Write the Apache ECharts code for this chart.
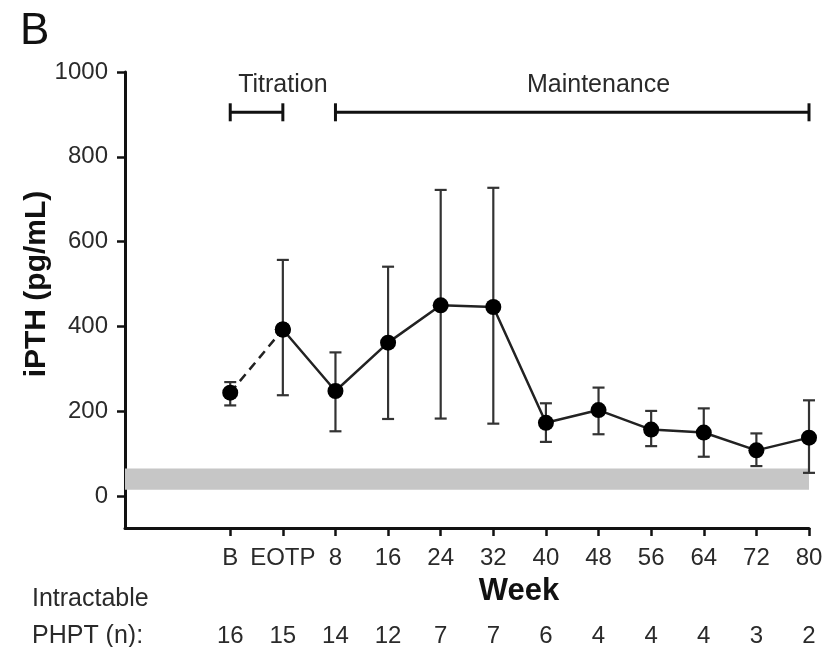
<!DOCTYPE html>
<html>
<head>
<meta charset="utf-8">
<script src="https://cdn.jsdelivr.net/npm/echarts@6/dist/echarts.min.js"></script>
<style>
html,body{margin:0;padding:0;background:#fff;}
#chart{width:826px;height:647px;}
</style>
</head>
<body>
<div id="chart"></div>
<script>
// ---- data ----
var categories = ['', '', 'B', 'EOTP', '8', '16', '24', '32', '40', '48', '56', '64', '72', '80'];
var nCounts   = ['', '', '16', '15', '14', '12', '7', '7', '6', '4', '4', '4', '3', '2'];
var meanPTH   = [null, null, 244, 393, 248, 362, 450, 446, 173, 203, 157, 150, 108, 138];
var lowPTH    = [null, null, 214, 238, 153, 182, 183, 171, 128, 146, 118, 93, 71, 55];
var highPTH   = [null, null, 269, 557, 339, 541, 722, 727, 219, 256, 201, 207, 148, 226];
var yTicks    = [0, 200, 400, 600, 800, 1000];
var normalRange = [15, 65];
var phases = [
  {name: 'Titration', from: 'B', to: 'EOTP'},
  {name: 'Maintenance', from: '8', to: '80'}
];
var bracketLevel = 905;
var phaseLabelLevel = 968;

// ---- build ----
var FONT = 'Liberation Sans, Arial, Helvetica, sans-serif';
var TXT = '#2a2a2a';

var dashedData = categories.map(function(c, i){ return (i === 2 || i === 3) ? meanPTH[i] : '-'; });
var solidData = categories.map(function(c, i){ return (i >= 3) ? meanPTH[i] : '-'; });
var errData = [];
categories.forEach(function(c, i){
  if (meanPTH[i] != null) errData.push([i, lowPTH[i], highPTH[i]]);
});
var phaseData = phases.map(function(p){
  return [categories.indexOf(p.from), categories.indexOf(p.to), bracketLevel, phaseLabelLevel, p.name];
});

var chart = echarts.init(document.getElementById('chart'), null, {renderer: 'canvas'});
chart.setOption({
  backgroundColor: '#ffffff',
  animation: false,
  grid: {left: 125, right: 17, top: 72, bottom: 119, containLabel: false, outerBoundsMode: 'none'},
  xAxis: [{
    type: 'category',
    data: categories,
    boundaryGap: false,
    axisLine: {onZero: false, lineStyle: {color: '#111', width: 3}},
    axisTick: {show: true, length: 8, lineStyle: {color: '#111', width: 2.5},
      interval: function(idx){ return idx >= 2; }},
    axisLabel: {interval: 0, color: TXT, fontFamily: FONT, fontSize: 24, margin: 18},
    splitLine: {show: false}
  }, {
    type: 'category',
    data: nCounts,
    boundaryGap: false,
    position: 'bottom',
    offset: 94,
    axisLine: {show: false, onZero: false},
    axisTick: {show: false},
    axisLabel: {interval: 0, color: TXT, fontFamily: FONT, fontSize: 24, margin: 2},
    splitLine: {show: false}
  }],
  yAxis: {
    type: 'value',
    min: -75,
    max: 1000,
    axisLine: {show: true, onZero: false, lineStyle: {color: '#111', width: 3}},
    axisTick: {show: true, length: 8, lineStyle: {color: '#111', width: 2.5}, customValues: yTicks},
    axisLabel: {color: TXT, fontFamily: FONT, fontSize: 24, margin: 17, customValues: yTicks,
      formatter: function(v){ return String(v); }},
    splitLine: {show: false}
  },
  graphic: [
    {type: 'text', left: 20, top: 10, style: {text: 'B', font: '44px ' + FONT, fill: '#111'}},
    {type: 'text', x: 37, y: 284, rotation: Math.PI / 2,
      style: {text: 'iPTH (pg/mL)', font: 'bold 30px ' + FONT, fill: '#111', align: 'center', verticalAlign: 'middle'}},
    {type: 'text', x: 519, y: 591,
      style: {text: 'Week', font: 'bold 31px ' + FONT, fill: '#111', align: 'center', verticalAlign: 'middle'}},
    {type: 'text', x: 32, y: 599,
      style: {text: 'Intractable', font: '25px ' + FONT, fill: TXT, align: 'left', verticalAlign: 'middle'}},
    {type: 'text', x: 32, y: 636,
      style: {text: 'PHPT (n):', font: '25px ' + FONT, fill: TXT, align: 'left', verticalAlign: 'middle'}}
  ],
  series: [
    {
      type: 'line',
      data: [],
      silent: true,
      markArea: {
        silent: true,
        itemStyle: {color: '#c6c6c6'},
        data: [[{yAxis: normalRange[0]}, {yAxis: normalRange[1]}]]
      }
    },
    {
      type: 'custom',
      data: phaseData,
      renderItem: function(params, api){
        var a = api.coord([api.value(0), api.value(2)]);
        var b = api.coord([api.value(1), api.value(2)]);
        var t = api.coord([(api.value(0) + api.value(1)) / 2, api.value(3)]);
        var cap = 9;
        var s = {stroke: '#111', lineWidth: 3};
        return {type: 'group', children: [
          {type: 'line', shape: {x1: a[0], y1: a[1], x2: b[0], y2: b[1]}, style: s},
          {type: 'line', shape: {x1: a[0], y1: a[1] - cap, x2: a[0], y2: a[1] + cap}, style: s},
          {type: 'line', shape: {x1: b[0], y1: b[1] - cap, x2: b[0], y2: b[1] + cap}, style: s},
          {type: 'text', x: t[0], y: t[1], style: {text: phaseData[params.dataIndex][4],
            font: '25px ' + FONT, fill: TXT, align: 'center', verticalAlign: 'middle'}}
        ]};
      }
    },
    {
      type: 'custom',
      data: errData,
      z: 3,
      renderItem: function(params, api){
        var lo = api.coord([api.value(0), api.value(1)]);
        var hi = api.coord([api.value(0), api.value(2)]);
        var cap = 6;
        var s = {stroke: '#333', lineWidth: 2.2};
        return {type: 'group', children: [
          {type: 'line', shape: {x1: lo[0], y1: lo[1], x2: hi[0], y2: hi[1]}, style: s},
          {type: 'line', shape: {x1: lo[0] - cap, y1: lo[1], x2: lo[0] + cap, y2: lo[1]}, style: s},
          {type: 'line', shape: {x1: hi[0] - cap, y1: hi[1], x2: hi[0] + cap, y2: hi[1]}, style: s}
        ]};
      }
    },
    {
      type: 'line',
      data: dashedData,
      z: 4,
      symbol: 'circle',
      symbolSize: 16,
      itemStyle: {color: '#000'},
      lineStyle: {color: '#222', width: 2.5, type: [9, 6]}
    },
    {
      type: 'line',
      data: solidData,
      z: 5,
      symbol: 'circle',
      symbolSize: 16,
      itemStyle: {color: '#000'},
      lineStyle: {color: '#222', width: 2.5}
    }
  ]
});
</script>
</body>
</html>
